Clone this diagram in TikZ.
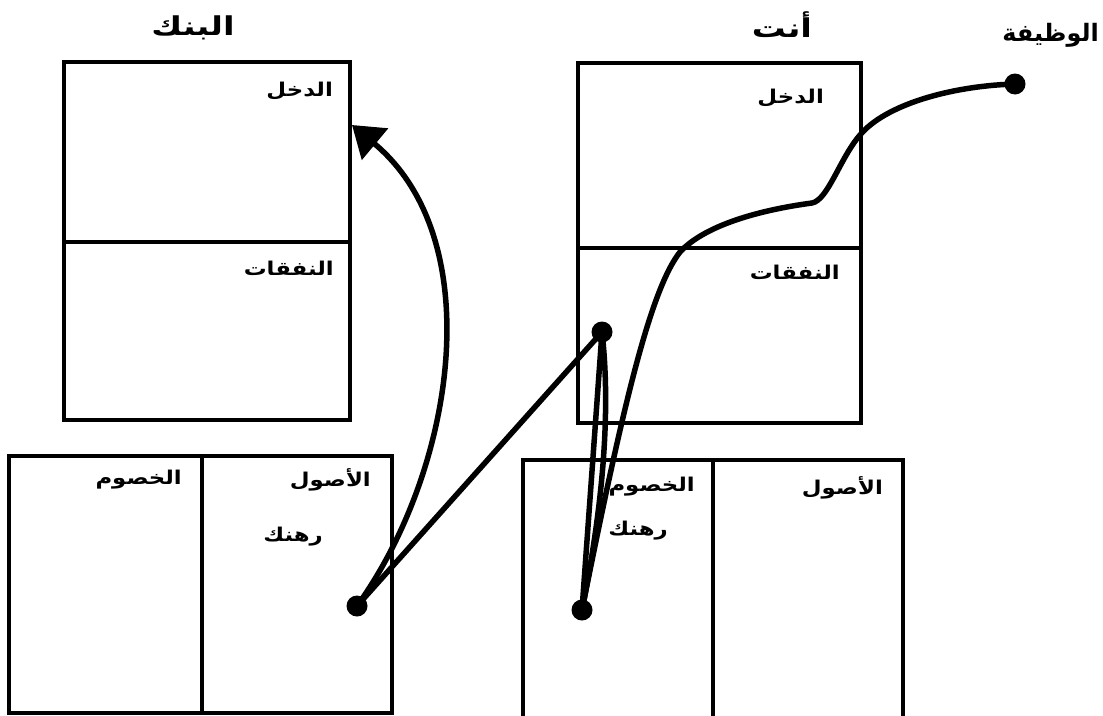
\documentclass[tikz,border=0pt]{standalone}
\usepackage{fontspec}
\usetikzlibrary{arrows.meta}
\TeXXeTstate=1
\newfontfamily\arabicfont[Script=Arabic, FakeStretch=1.2]{DejaVu Sans}
\newfontfamily\arabicwide[Script=Arabic, FakeStretch=1.3]{DejaVu Sans}
\newfontfamily\arabicplain[Script=Arabic]{DejaVu Sans}

\begin{document}
\begin{tikzpicture}[x=1pt,y=-1pt,
  box/.style={line width=3.2pt, line cap=rect},
  lbl/.style={anchor=east, inner sep=0pt, font=\arabicfont\bfseries\fontsize{19}{21}\selectfont},
  ttl/.style={inner sep=0pt, font=\arabicwide\bfseries\fontsize{26}{30}\selectfont},
  link/.style={line width=5.5pt, line cap=round},
  dot/.style={circle, fill=black, minimum size=21pt, inner sep=0pt}]
\useasboundingbox (0,0) rectangle (1103,715);

% Bank: income statement
\draw[box] (64,62) rectangle (350,420);
\draw[box] (64,242) -- (350,242);
% Bank: balance sheet
\draw[box] (9,456) rectangle (392,713);
\draw[box] (202,456) -- (202,713);

% You: income statement
\draw[box] (578,63) rectangle (861,423);
\draw[box] (578,248) -- (861,248);
% You: balance sheet (runs off the page at the bottom)
\draw[box] (523,725) -- (523,460) -- (903,460) -- (903,725);
\draw[box] (713,460) -- (713,725);

% Titles
\node[ttl] (tBank) at (193,28) {\beginR البنك\endR};
\node[ttl] (tYou)  at (782,25) {\beginR أنت\endR};
\node[ttl, anchor=east, font=\arabicplain\bfseries\fontsize{24}{28}\selectfont]
  (tJob) at (1099,35) {\beginR الوظيفة\endR};

% Bank labels
\node[lbl] (bInc) at (333,91)  {\beginR الدخل\endR};
\node[lbl] (bExp) at (334,268) {\beginR النفقات\endR};
\node[lbl] (bAst) at (371,480) {\beginR الأصول\endR};
\node[lbl] (bMtg) at (323,537) {\beginR رهنك\endR};
\node[lbl] (bLia) at (182,480) {\beginR الخصوم\endR};

% You labels
\node[lbl] (yInc) at (824,98)  {\beginR الدخل\endR};
\node[lbl] (yExp) at (840,272) {\beginR النفقات\endR};
\node[lbl] (yLia) at (695,487) {\beginR الخصوم\endR};
\node[lbl] (yMtg) at (668,531) {\beginR رهنك\endR};
\node[lbl] (yAst) at (883,488) {\beginR الأصول\endR};

% Anchor points of the flows
\coordinate (tip) at (352,125);
\node[dot] (jd) at (1015,84)  {};
\node[dot] (xd) at (602,332)  {};
\node[dot] (rd) at (582,610)  {};
\node[dot] (bd) at (357,606)  {};

% Mortgage payment flowing back to the bank's income
\draw[link, -{Triangle[length=30pt,width=40pt]}]
  (bd.center) .. controls (455,470) and (490,240) .. (tip);
% Expense tied to the bank's asset
\draw[link] (bd.center) -- (xd.center);
% Expense tied to your liability
\draw[link] (rd.center) -- (xd.center);
\draw[link] (rd.center) .. controls (600,520) and (612,420) .. (xd.center);
% Job income running down into the liability
\draw[link] (jd.center) .. controls (950,86) and (885,105) .. (860,135)
  .. controls (840,158) and (828,200) .. (812,203)
  .. controls (760,210) and (705,225) .. (680,252)
  .. controls (650,290) and (622,410) .. (rd.center);
\end{tikzpicture}
\end{document}
